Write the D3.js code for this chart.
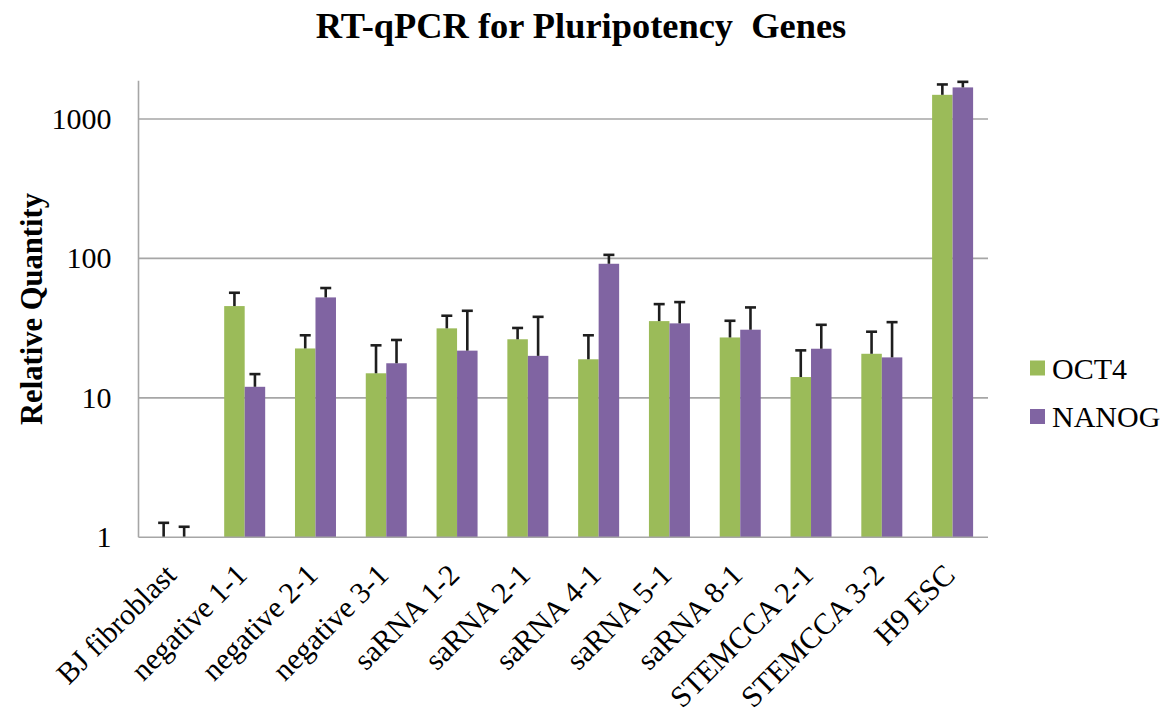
<!DOCTYPE html>
<html>
<head>
<meta charset="utf-8">
<script src="https://cdn.jsdelivr.net/npm/d3@7"></script>
</head>
<body style="margin:0;background:#fff">
<svg id="chart" width="1172" height="715" style="display:block"></svg>
<script>
// Sample labels and relative expression (fold change vs. BJ fibroblast)
const categories = ["BJ fibroblast", "negative 1-1", "negative 2-1", "negative 3-1",
  "saRNA 1-2", "saRNA 2-1", "saRNA 4-1", "saRNA 5-1", "saRNA 8-1",
  "STEMCCA 2-1", "STEMCCA 3-2", "H9 ESC"];
const seriesNames = ["OCT4", "NANOG"];
const oct4 = [1, 45.5, 22.6, 15.0, 31.5, 26.3, 18.9, 35.5, 27.1, 14.1, 20.7, 1489];
const nanog = [1, 12.0, 52.5, 17.7, 21.8, 20.0, 91.5, 34.2, 30.8, 22.5, 19.5, 1683];
// Upper error amounts (SD)
const oct4Err = [0.27, 11.2, 5.5, 8.8, 7.3, 5.4, 9.2, 11.5, 8.6, 7.8, 9.1, 278];
const nanogErr = [0.19, 2.8, 8.8, 8.3, 20.3, 18.1, 14.5, 14.4, 13.7, 10.9, 15.4, 162];
const yTicks = [1, 10, 100, 1000];
const yMax = 1880;
const colors = ["#9BBB59", "#8064A2"];

const FONT = '"Liberation Serif", "Times New Roman", serif';
const svg = d3.select("#chart");
const plot = { left: 138.5, right: 988, top: 80.7, bottom: 537.3 };

const values = [oct4, nanog];
const errors = [oct4Err, nanogErr];
const rows = categories.map((c, i) => ({
  cat: c,
  items: seriesNames.map((s, k) => ({ series: s, k, value: values[k][i], err: errors[k][i] }))
}));

const x = d3.scaleBand().domain(categories).range([plot.left, plot.right]).padding(0);
const barW = 20.5;
const xs = d3.scaleBand().domain(seriesNames)
  .range([x.bandwidth() / 2 - barW, x.bandwidth() / 2 + barW]).padding(0);
const y = d3.scaleLog().domain([1, yMax]).range([plot.bottom, plot.top]);

// Gridlines
svg.append("g").selectAll("line")
  .data(yTicks.filter(t => t > 1))
  .join("line")
  .attr("x1", plot.left).attr("x2", plot.right)
  .attr("y1", d => y(d)).attr("y2", d => y(d))
  .attr("stroke", "#a6a6a6").attr("stroke-width", 1.6);

// Bars
const groups = svg.append("g").selectAll("g")
  .data(rows).join("g")
  .attr("transform", d => `translate(${x(d.cat)},0)`);

groups.selectAll("rect")
  .data(d => d.items).join("rect")
  .attr("x", d => xs(d.series))
  .attr("width", xs.bandwidth())
  .attr("y", d => y(d.value))
  .attr("height", d => y(1) - y(d.value))
  .attr("fill", d => colors[d.k]);

// Upper error bars
const eb = groups.selectAll("g.err")
  .data(d => d.items).join("g").attr("class", "err")
  .attr("transform", d => `translate(${xs(d.series) + xs.bandwidth() / 2},0)`);
eb.append("line")
  .attr("x1", 0).attr("x2", 0)
  .attr("y1", d => y(d.value)).attr("y2", d => y(d.value + d.err))
  .attr("stroke", "#1e1e1e").attr("stroke-width", 2.6);
eb.append("line")
  .attr("x1", -5.5).attr("x2", 5.5)
  .attr("y1", d => y(d.value + d.err)).attr("y2", d => y(d.value + d.err))
  .attr("stroke", "#1e1e1e").attr("stroke-width", 2.6);

// Y axis
const yAxis = d3.axisLeft(y).tickValues(yTicks).tickFormat(d3.format("d")).tickSize(0).tickPadding(27);
const gy = svg.append("g").attr("transform", `translate(${plot.left},0)`).call(yAxis)
  .attr("font-family", null).attr("font-size", null);
gy.select(".domain").attr("stroke", "#a6a6a6").attr("stroke-width", 1.6)
  .attr("d", `M0,${plot.top}V${plot.bottom}`);
gy.selectAll(".tick text").attr("fill", "#000")
  .style("font-family", FONT).style("font-size", "30px");

// X axis with slanted category labels
const xAxis = d3.axisBottom(x).tickSize(0).tickPadding(0);
const gx = svg.append("g").attr("transform", `translate(0,${plot.bottom})`).call(xAxis)
  .attr("font-family", null).attr("font-size", null);
gx.select(".domain").attr("stroke", "#a6a6a6").attr("stroke-width", 1.6)
  .attr("d", `M${plot.left},0H${plot.right}`);
gx.selectAll(".tick text")
  .attr("fill", "#000")
  .style("font-family", FONT).style("font-size", "30px")
  .attr("text-anchor", "end")
  .attr("y", 0).attr("dy", "0.35em")
  .attr("transform", "translate(-3.5,32) rotate(-45)");

// Title
svg.append("text")
  .attr("x", 581).attr("y", 37.5)
  .attr("text-anchor", "middle")
  .style("font-family", FONT)
  .style("font-size", "36.4px").style("font-weight", "bold")
  .style("white-space", "pre")
  .text("RT-qPCR for Pluripotency  Genes");

// Y axis title
svg.append("text")
  .attr("transform", "translate(41.5,309) rotate(-90)")
  .attr("text-anchor", "middle")
  .style("font-family", FONT)
  .style("font-size", "30.6px").style("font-weight", "bold")
  .text("Relative Quantity");

// Legend
const lg = svg.append("g").selectAll("g")
  .data(seriesNames).join("g")
  .attr("transform", (d, i) => `translate(1030,${368 + i * 48.5})`);
lg.append("rect").attr("x", 0).attr("y", -7.5).attr("width", 15).attr("height", 15)
  .attr("fill", (d, i) => colors[i]);
lg.append("text").attr("x", 22).attr("y", 0).attr("dy", "0.35em")
  .style("font-family", FONT)
  .style("font-size", "30px").text(d => d);
</script>
</body>
</html>
